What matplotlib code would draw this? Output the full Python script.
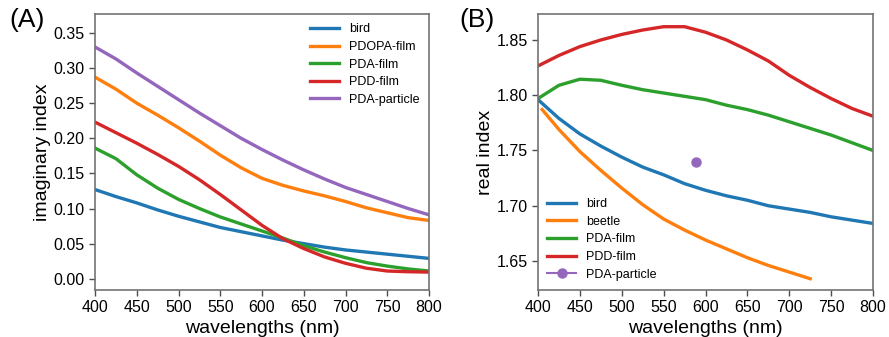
import matplotlib

matplotlib.use("Agg")

import matplotlib.pyplot as plt
import numpy as np

plt.rcParams["font.family"] = ["Liberation Sans", "DejaVu Sans"]

# wavelength grid (nm)
wl = [400, 425, 450, 475, 500, 525, 550, 575, 600, 625, 650, 675, 700, 725, 750, 775, 800]

# (A) imaginary index
k_bird = [0.127, 0.117, 0.108, 0.098, 0.089, 0.081, 0.073, 0.067, 0.061, 0.055, 0.050, 0.045, 0.041, 0.038, 0.035, 0.032, 0.029]
k_pdopa = [0.287, 0.270, 0.250, 0.233, 0.215, 0.196, 0.176, 0.158, 0.143, 0.133, 0.125, 0.118, 0.110, 0.101, 0.094, 0.087, 0.083]
k_pda = [0.186, 0.171, 0.148, 0.129, 0.113, 0.100, 0.088, 0.078, 0.068, 0.058, 0.047, 0.038, 0.030, 0.023, 0.018, 0.014, 0.011]
k_pdd = [0.223, 0.208, 0.193, 0.177, 0.160, 0.141, 0.120, 0.098, 0.076, 0.057, 0.043, 0.031, 0.022, 0.015, 0.011, 0.010, 0.0095]
k_particle = [0.330, 0.313, 0.293, 0.274, 0.255, 0.236, 0.218, 0.200, 0.184, 0.169, 0.155, 0.142, 0.130, 0.120, 0.110, 0.100, 0.091]

# (B) real index
n_bird = [1.796, 1.779, 1.765, 1.754, 1.744, 1.735, 1.728, 1.720, 1.714, 1.709, 1.705, 1.700, 1.697, 1.694, 1.690, 1.687, 1.684]
wl_beetle = [405, 425, 450, 475, 500, 525, 550, 575, 600, 625, 650, 675, 700, 725]
n_beetle = [1.787, 1.769, 1.749, 1.732, 1.716, 1.701, 1.688, 1.678, 1.669, 1.661, 1.653, 1.646, 1.640, 1.634]
n_pda = [1.797, 1.809, 1.8145, 1.8135, 1.809, 1.805, 1.802, 1.799, 1.796, 1.791, 1.787, 1.782, 1.776, 1.770, 1.764, 1.757, 1.750]
n_pdd = [1.8265, 1.836, 1.844, 1.850, 1.855, 1.859, 1.862, 1.862, 1.857, 1.850, 1.841, 1.831, 1.818, 1.807, 1.797, 1.788, 1.781]
wl_particle = [589]
n_particle = [1.74]

LW = 2.4
SPINE = "0.45"
LABEL_FS = 14

fig = plt.figure(figsize=(8.89, 3.37), dpi=100)
ax_a = fig.add_axes([0.1069, 0.1395, 0.3757, 0.819])
ax_b = fig.add_axes([0.6052, 0.1395, 0.3768, 0.819])

ax_a.plot(wl, k_bird, color="tab:blue", lw=LW, label="bird")
ax_a.plot(wl, k_pdopa, color="tab:orange", lw=LW, label="PDOPA-film")
ax_a.plot(wl, k_pda, color="tab:green", lw=LW, label="PDA-film")
ax_a.plot(wl, k_pdd, color="tab:red", lw=LW, label="PDD-film")
ax_a.plot(wl, k_particle, color="tab:purple", lw=LW, label="PDA-particle")
ax_a.set_ylim(-0.016, 0.377)
ax_a.set_yticks(np.arange(0, 0.36, 0.05))
ax_a.set_ylabel("imaginary index", fontsize=LABEL_FS, labelpad=2)
ax_a.legend(loc="upper right", frameon=False, fontsize=9, handlelength=2.3,
            borderaxespad=0.35, labelspacing=0.45)

ax_b.plot(wl, n_bird, color="tab:blue", lw=LW, label="bird")
ax_b.plot(wl_beetle, n_beetle, color="tab:orange", lw=LW, label="beetle")
ax_b.plot(wl, n_pda, color="tab:green", lw=LW, label="PDA-film")
ax_b.plot(wl, n_pdd, color="tab:red", lw=LW, label="PDD-film")
ax_b.plot(wl_particle, n_particle, "o-", color="tab:purple", lw=1.5, ms=6.5,
          label="PDA-particle")
ax_b.set_ylim(1.6238, 1.8735)
ax_b.set_yticks([1.65, 1.70, 1.75, 1.80, 1.85])
ax_b.set_ylabel("real index", fontsize=LABEL_FS, labelpad=2)
ax_b.legend(loc="lower left", frameon=False, fontsize=9, handlelength=2.3,
            borderaxespad=0.35, labelspacing=0.45)

for ax in (ax_a, ax_b):
    ax.set_xlim(400, 800)
    ax.set_xticks(range(400, 801, 50))
    ax.set_xlabel("wavelengths (nm)", fontsize=LABEL_FS, labelpad=3)
    ax.tick_params(labelsize=11.5, color="0.3", length=4, width=1)
    for sp in ax.spines.values():
        sp.set_color(SPINE)
        sp.set_linewidth(1.2)

fig.text(0.010, 0.94, "(A)", fontsize=19, va="center", ha="left")
fig.text(0.517, 0.94, "(B)", fontsize=19, va="center", ha="left")

fig.savefig("out.png", dpi=100)
